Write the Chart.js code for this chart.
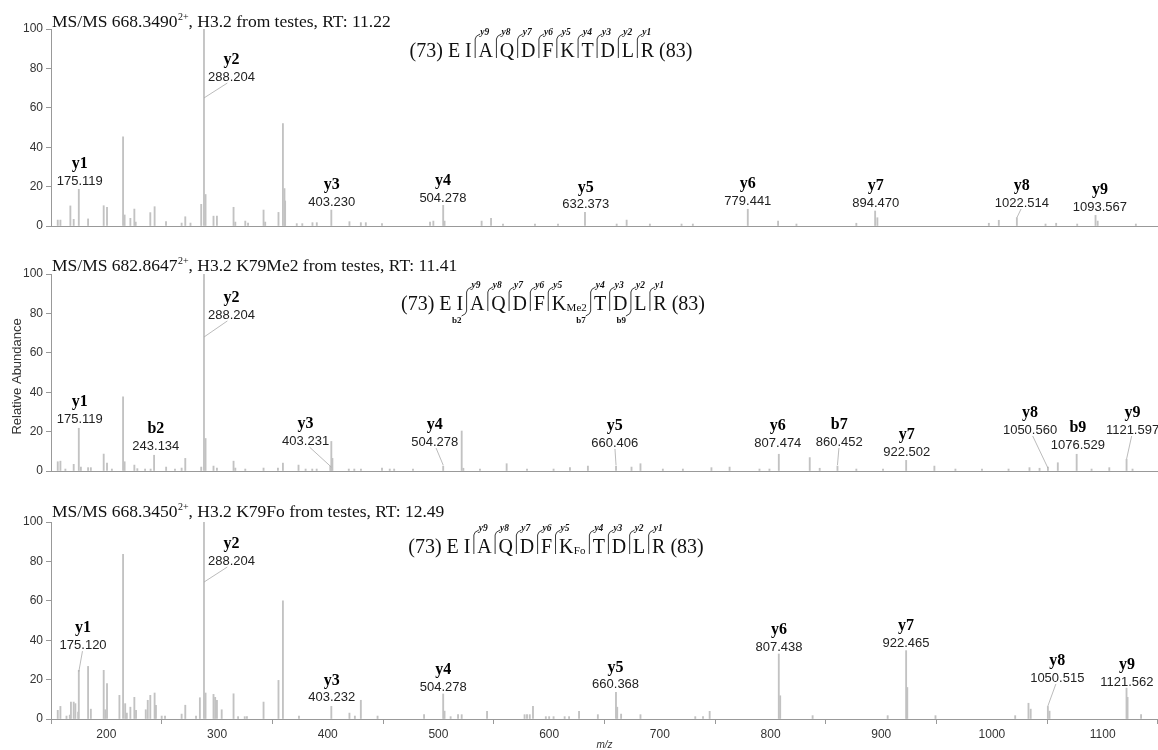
<!DOCTYPE html>
<html>
<head>
<meta charset="utf-8">
<script src="https://cdn.jsdelivr.net/npm/chart.js@4.4.0/dist/chart.umd.min.js"></script>
<style>
  body { margin: 0; background: #fff; width: 1158px; height: 750px; overflow: hidden; position: relative; }
  .panel { position: absolute; left: 0; width: 1158px; }
</style>
</head>
<body>
<div class="panel" style="top:0;height:245px"><canvas id="c1"></canvas></div>
<div class="panel" style="top:245px;height:248px"><canvas id="c2"></canvas></div>
<div class="panel" style="top:493px;height:257px"><canvas id="c3"></canvas></div>
<script>
// spectra: [m/z, relative abundance]
const peaksTop = [
  [156.1,3],[158.5,3],[167.5,10.2],[170.5,3.4],[175.12,18.6],[183.5,3.6],[197.6,10.3],[200.6,9.5],
  [215.1,45.3],[216.5,5.6],[221.7,3.9],[225.3,8.6],[226.5,2],[239.7,6.8],[243.6,9.8],[253.9,2.2],
  [268,1.5],[271.3,4.7],[276,1.5],[285.7,11],[288.2,100],[289.6,16],[296.8,5],[299.9,5],[314.9,9.5],
  [316.5,2],[325.5,2.5],[328,1.5],[342,8.1],[343.5,2],[355.5,6.9],[359.5,52],[360.9,19],[361.5,12.7],
  [372,1.2],[377,1.2],[386.2,1.7],[390.1,1.7],[403.23,8.1],[419.6,2.2],[429.9,1.7],[434.4,1.7],[449,1.2],
  [492.4,2],[495.4,2.5],[504.28,10.5],[505.5,2.5],[539,2.5],[547.5,3.9],[558.3,1],[587.2,1],[608,1],
  [632.37,7],[661,1],[670,3],[691,1],[719.6,1],[729.8,1],[779.44,8.5],[806.8,2.5],[823.4,1],[877.5,1.4],
  [894.47,7.6],[896.5,4.2],[997.2,1.4],[1006.2,2.9],[1022.51,4.2],[1048.4,1],[1058,1.4],[1077,1],
  [1093.57,5.4],[1095.5,2.5],[1130,1]
];
const peaksMid = [
  [156.1,4.7],[158.5,5],[163,1],[170.5,3.4],[175.12,21.7],[177,2],[183.5,1.7],[186,1.7],[197.6,8.6],
  [200.6,4],[205,1],[215.1,37.7],[216.5,4.7],[225.3,3],[228,1.2],[235,1],[240,1],[243.13,8],[254,2],
  [262,1],[268,1.5],[271.3,6.4],[285.7,2],[288.2,100],[289.6,16.5],[296.8,2.5],[299.9,1.5],[314.9,5],
  [316.5,1.5],[325.5,1],[342,1.5],[355,1.5],[359.5,4],[373.6,3],[380,1],[386,1],[390,1],[402.3,2.5],
  [403.23,15],[404.2,6.4],[419,1],[424,1],[430,1],[449,1.5],[456,1],[460,1],[477,1],[504.28,2.5],
  [521,20.3],[522.5,1.4],[537.5,1],[561.6,3.7],[580,1],[604,1],[618.8,1.7],[635,2.5],[660.41,2.5],
  [674.4,2],[682.5,3.7],[702.7,1],[720.8,1],[746.6,1.7],[763,2],[790,1],[799,1],[807.47,8.5],
  [835.4,6.8],[844.4,1.4],[860.45,2.5],[877.5,1],[901.6,1],[922.5,5.4],[948,2.5],[967,1],[991,1],
  [1015,1],[1033.9,1.7],[1043,1.4],[1050.56,2],[1059.5,4.2],[1076.53,8.5],[1090,1],[1106,1.7],
  [1121.6,5.9],[1127,1]
];
const peaksBot = [
  [156.1,4.4],[158.5,6.4],[164,1.5],[167,2],[168,8.6],[170.5,8.6],[172,7.8],[174.5,3.5],[175.12,24.7],
  [183.5,26.7],[186,5],[197.6,24.7],[199,4.7],[200.6,18],[211.8,12],[215.1,83.6],[217,7.8],[218.5,3],
  [221.7,6],[225.3,11],[226.8,4.4],[235.6,4.7],[237.4,9.5],[239.7,12],[243.6,13.2],[244.8,7],[250,1.5],
  [253,1.5],[268,2.5],[271.3,7],[281,1.5],[284.5,10.8],[288.2,100],[289.6,13.2],[296.8,12.5],[298.3,11],
  [299.9,9.5],[304.2,4.7],[314.9,12.8],[319,1.2],[325,1.2],[327,1.2],[342,8.6],[355.5,19.6],[359.5,60],
  [374,1.5],[403.23,6.4],[419.6,3],[424.5,1.5],[429.9,9.5],[445,1.5],[487,2.2],[504.28,12.7],[505.5,4],
  [511,1.2],[517.7,2.2],[521,2.2],[543.9,3.9],[577.8,2.2],[580,2.2],[582.5,2.2],[585.4,6.4],[597,1.2],
  [600,1.2],[604,1.2],[614,1.2],[618,1.2],[627,3.9],[644,2.2],[660.37,13.5],[661.5,6],[665,2.5],
  [682.5,2.2],[732,1.2],[739,1.2],[745,3.9],[807.44,33],[808.7,11.8],[838,1.7],[905.8,1.7],[922.47,34.7],
  [923.5,16],[949,1.7],[1021,1.7],[1033,8],[1035,5],[1050.52,6.4],[1052,4],[1121.56,15.7],[1122.5,11],
  [1134.7,2.2]
];

// annotated fragment ions: [name, label, peak m/z]
const ionsTop = [
  ['y1','175.119',175.12],['y2','288.204',288.2],['y3','403.230',403.23],['y4','504.278',504.28],
  ['y5','632.373',632.37],['y6','779.441',779.44],['y7','894.470',894.47],['y8','1022.514',1022.51],
  ['y9','1093.567',1093.57]
];
const ionsMid = [
  ['y1','175.119',175.12],['b2','243.134',243.13],['y2','288.204',288.2],['y3','403.231',403.23],
  ['y4','504.278',504.28],['y5','660.406',660.41],['y6','807.474',807.47],['b7','860.452',860.45],
  ['y7','922.502',922.5],['y8','1050.560',1050.56],['b9','1076.529',1076.53],['y9','1121.597',1121.6]
];
const ionsBot = [
  ['y1','175.120',175.12],['y2','288.204',288.2],['y3','403.232',403.23],['y4','504.278',504.28],
  ['y5','660.368',660.37],['y6','807.438',807.44],['y7','922.465',922.47],['y8','1050.515',1050.52],
  ['y9','1121.562',1121.56]
];
// where each label sits (label m/z, label height, leader end height or null)
const placeTop = [[176,22.8,null],[313,75.6,65],[403.6,12.2,null],[504,14.2,null],[633,10.7,null],
  [779.5,12.7,null],[895,11.7,null],[1027,11.7,4.2],[1097.5,9.6,null]];
const placeMid = [[176,26.4,null],[244.7,12.7,null],[313,79.2,68],[380,15.2,2],[496.7,14.7,3],
  [659.3,14.2,3],[806.6,14.2,null],[862,14.7,3],[923,9.6,null],[1034.4,20.8,1.5],[1077.6,13.2,null],
  [1127,20.8,6]];
const placeBot = [[179,37.5,24],[313,80.2,69.5],[403.6,10.7,null],[504.3,16.2,null],[660,17.3,null],
  [807.6,36.5,null],[922.3,38.6,null],[1059,20.8,6.6],[1121.9,18.8,null]];

const titles = [
  ['MS/MS 668.3490', '2+', ', H3.2 from testes, RT: 11.22'],
  ['MS/MS 682.8647', '2+', ', H3.2 K79Me2 from testes, RT: 11.41'],
  ['MS/MS 668.3450', '2+', ', H3.2 K79Fo from testes, RT: 12.49']
];
const residues = ['E','I','A','Q','D','F','K','T','D','L','R'];
const xTicks = [200,300,400,500,600,700,800,900,1000,1100];
const yTicks = [0,20,40,60,80,100];

const SERIF = '"Liberation Serif", "Times New Roman", serif';
const SANS = '"Liberation Sans", Arial, sans-serif';

function drawTitle(ctx, x, base, parts) {
  ctx.save();
  ctx.fillStyle = '#111';
  ctx.textAlign = 'left';
  ctx.textBaseline = 'alphabetic';
  ctx.font = '17.5px ' + SERIF;
  ctx.fillText(parts[0], x, base);
  x += ctx.measureText(parts[0]).width;
  ctx.font = '10px ' + SERIF;
  ctx.fillText(parts[1], x + 0.5, base - 7);
  x += ctx.measureText(parts[1]).width + 0.5;
  ctx.font = '17.5px ' + SERIF;
  ctx.fillText(parts[2], x, base);
  ctx.restore();
}

// peptide sequence with fragment marks
function drawSequence(ctx, cx, base, mod, bCuts) {
  const gap = 6.8;
  ctx.save();
  ctx.fillStyle = '#111';
  ctx.strokeStyle = '#222';
  ctx.lineWidth = 0.9;
  ctx.textBaseline = 'alphabetic';
  const big = '20px ' + SERIF, small = '11px ' + SERIF;
  ctx.font = big;
  const pre = '(73) ' + residues[0] + ' ' + residues[1];
  const suf = ' (83)';
  let total = ctx.measureText(pre).width + ctx.measureText(suf).width;
  for (let k = 2; k < residues.length; k++) {
    total += gap + ctx.measureText(residues[k]).width;
    if (k === 6 && mod) { ctx.font = small; total += ctx.measureText(mod).width + 1; ctx.font = big; }
  }
  let x = cx - total / 2;
  ctx.textAlign = 'left';
  ctx.fillText(pre, x, base);
  x += ctx.measureText(pre).width;
  for (let k = 2; k < residues.length; k++) {
    const sx = x + gap / 2;
    ctx.beginPath();
    ctx.moveTo(sx, base + 1);
    ctx.lineTo(sx, base - 18);
    ctx.quadraticCurveTo(sx, base - 21, sx + 5, base - 23);
    ctx.stroke();
    ctx.font = 'italic bold 9.5px ' + SERIF;
    ctx.textAlign = 'left';
    ctx.fillText('y' + (11 - k), sx + 5, base - 22);
    if (bCuts.includes(k)) {
      ctx.beginPath();
      ctx.moveTo(sx, base + 1);
      ctx.quadraticCurveTo(sx, base + 4, sx - 5, base + 6);
      ctx.stroke();
      ctx.font = 'bold 9px ' + SERIF;
      ctx.textAlign = 'right';
      ctx.fillText('b' + k, sx - 5, base + 13);
    }
    x += gap;
    ctx.font = big;
    ctx.textAlign = 'left';
    ctx.fillText(residues[k], x, base);
    x += ctx.measureText(residues[k]).width;
    if (k === 6 && mod) {
      ctx.font = small;
      ctx.fillText(mod, x + 0.5, base + 1);
      x += ctx.measureText(mod).width + 1;
      ctx.font = big;
    }
  }
  ctx.fillText(suf, x, base);
  ctx.restore();
}

const spectrumPlugin = {
  id: 'spectrum',
  afterDatasetsDraw(chart, args, opts) {
    const ctx = chart.ctx;
    const xs = chart.scales.x, ys = chart.scales.y;
    drawTitle(ctx, 52, opts.titleBase, opts.title);
    drawSequence(ctx, opts.seqX, opts.seqBase, opts.mod, opts.bCuts);
    opts.ions.forEach((ion, i) => {
      const [name, label, peak] = ion;
      const [lm, li, leadI] = opts.place[i];
      const lx = xs.getPixelForValue(lm), ly = ys.getPixelForValue(li);
      if (leadI !== null) {
        const px = xs.getPixelForValue(peak);
        ctx.save();
        ctx.strokeStyle = '#aaa';
        ctx.lineWidth = 0.8;
        ctx.beginPath();
        ctx.moveTo(lx + (px - lx) * 0.15, ly + 6);
        ctx.lineTo(px, ys.getPixelForValue(leadI));
        ctx.stroke();
        ctx.restore();
      }
      ctx.save();
      ctx.textAlign = 'center';
      ctx.textBaseline = 'middle';
      ctx.fillStyle = '#222';
      ctx.font = '13px ' + SANS;
      ctx.fillText(label, lx, ly);
      ctx.fillStyle = '#000';
      ctx.font = 'bold 16px ' + SERIF;
      ctx.fillText(name, lx, ly - 17);
      ctx.restore();
    });
    if (opts.yTitle) {
      ctx.save();
      ctx.translate(17, ys.getPixelForValue(48));
      ctx.rotate(-Math.PI / 2);
      ctx.textAlign = 'center';
      ctx.textBaseline = 'middle';
      ctx.fillStyle = '#333';
      ctx.font = '13px ' + SANS;
      ctx.fillText(opts.yTitle, 0, 0);
      ctx.restore();
    }
    if (opts.xTitle) {
      ctx.save();
      ctx.textAlign = 'center';
      ctx.textBaseline = 'middle';
      ctx.fillStyle = '#333';
      ctx.font = 'italic 10px ' + SANS;
      ctx.fillText(opts.xTitle, (chart.chartArea.left + chart.chartArea.right) / 2, chart.chartArea.bottom + 26);
      ctx.restore();
    }
  }
};

function makeSpectrum(id, peaks, cfg) {
  new Chart(document.getElementById(id), {
    type: 'bar',
    data: {
      datasets: [{
        data: peaks.map(p => ({ x: p[0], y: p[1] })),
        backgroundColor: '#c2c2c2',
        borderWidth: 0,
        barThickness: 1.2,
        grouped: false
      }]
    },
    options: {
      responsive: true,
      maintainAspectRatio: false,
      animation: false,
      layout: { padding: { top: 29, left: 0, right: 0, bottom: 0 } },
      plugins: {
        legend: { display: false },
        tooltip: { enabled: false },
        spectrum: cfg
      },
      scales: {
        x: {
          type: 'linear',
          min: 150,
          max: 1150,
          offset: false,
          afterBuildTicks: s => { s.ticks = xTicks.map(v => ({ value: v })); },
          afterFit: s => { s.height = cfg.xHeight; },
          ticks: {
            display: cfg.xLabels,
            padding: 3,
            color: '#333',
            font: { family: SANS, size: 12 },
            callback: v => String(v)
          },
          grid: { display: cfg.xLabels, drawOnChartArea: false, tickLength: 5, color: '#999' },
          border: { display: true, color: '#999' }
        },
        y: {
          min: 0,
          max: 100,
          afterBuildTicks: s => { s.ticks = yTicks.map(v => ({ value: v })); },
          afterFit: s => { s.width = 51; },
          ticks: { padding: 3, color: '#333', font: { family: SANS, size: 12 }, callback: v => String(v) },
          grid: { drawOnChartArea: false, tickLength: 5, color: '#999' },
          border: { display: true, color: '#999' }
        }
      }
    },
    plugins: [spectrumPlugin]
  });
}

makeSpectrum('c1', peaksTop, {
  title: titles[0], titleBase: 27, seqX: 551, seqBase: 57, mod: '', bCuts: [],
  ions: ionsTop, place: placeTop, xHeight: 19, xLabels: false
});
makeSpectrum('c2', peaksMid, {
  title: titles[1], titleBase: 26, seqX: 553, seqBase: 65, mod: 'Me2', bCuts: [2, 7, 9],
  ions: ionsMid, place: placeMid, xHeight: 22, xLabels: false, yTitle: 'Relative Abundance'
});
makeSpectrum('c3', peaksBot, {
  title: titles[2], titleBase: 24, seqX: 556, seqBase: 60, mod: 'Fo', bCuts: [],
  ions: ionsBot, place: placeBot, xHeight: 31, xLabels: true, xTitle: 'm/z'
});
</script>
</body>
</html>
